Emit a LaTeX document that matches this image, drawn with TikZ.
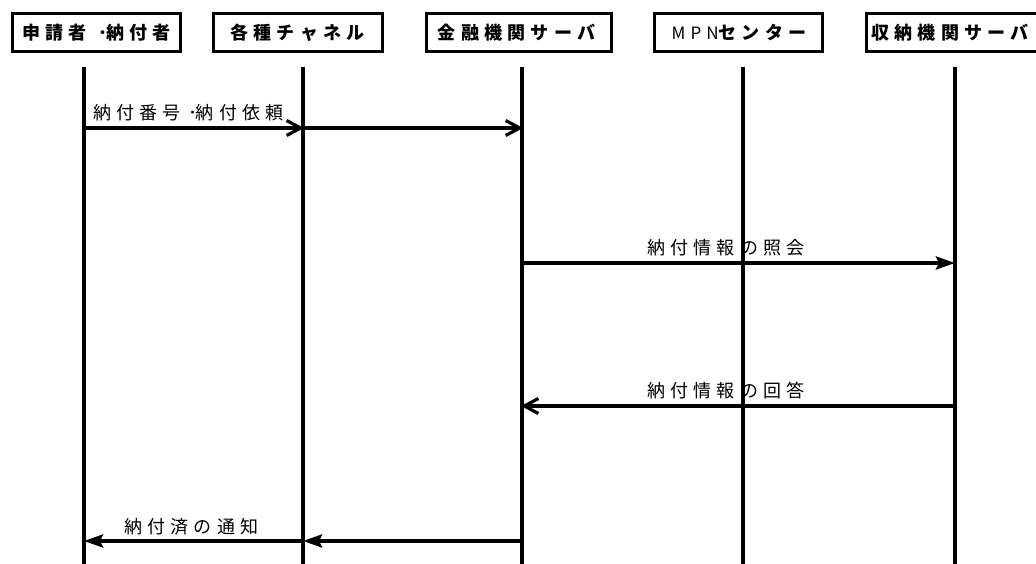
\documentclass[tikz,border=0pt]{standalone}
\usepackage{fontspec}
\newfontfamily\jphd[LetterSpace=29]{Noto Sans CJK JP}
\newfontfamily\jpsp[LetterSpace=29]{Noto Sans CJK JP}
\newfontfamily\jplat[LetterSpace=30]{Noto Sans CJK JP}
\usetikzlibrary{arrows.meta}
\begin{document}
\begin{tikzpicture}[x=1pt,y=-1pt,
  hdr/.style={draw,line width=3pt,minimum height=38pt,inner sep=0pt,font=\jphd\bfseries\fontsize{18}{18}\selectfont},
  life/.style={line width=4pt},
  msg/.style={line width=3.6pt},
  open/.style={-{Straight Barb[length=14pt,width=15pt,line width=3.2pt]}},
  solid/.style={-{Stealth[length=19pt,width=13pt,inset=3pt]}},
  lbl/.style={inner sep=0pt,font=\jpsp\fontsize{18}{18}\selectfont}]
\useasboundingbox (0,0) rectangle (1036,564);
% headers
\node[hdr,minimum width=168pt] (h1) at (96.5,33) {申請者\hspace{16pt}\makebox[0pt]{･}\hspace{3pt}納付者};
\node[hdr,minimum width=169pt] (h2) at (297.5,33) {各種チャネル};
\node[hdr,minimum width=185pt] (h3) at (518.5,33) {\hspace{-4pt}金融機関サーバ};
\node[hdr,minimum width=168pt] (h4) at (738,33) {\hspace{2pt}{\mdseries\jplat\fontsize{17}{17}\selectfont MPN}センター};
\node[hdr,minimum width=192pt] (h5) at (962,33) {\hspace{-24pt}収納機関サーバ};
% lifelines
\foreach \n/\x in {1/84,2/303,3/522,4/743,5/955}{
  \coordinate (t\n) at (\x,67);
  \coordinate (b\n) at (\x,564);
  \draw[life] (t\n) -- (b\n);
}
% message points
\coordinate (m1a) at (84,128); \coordinate (m1b) at (303,128); \coordinate (m1c) at (522,128);
\coordinate (m2a) at (522,263); \coordinate (m2b) at (955,263);
\coordinate (m3a) at (955,406); \coordinate (m3b) at (522,406);
\coordinate (m4a) at (522,541); \coordinate (m4b) at (303,541); \coordinate (m4c) at (84,541);
\draw[msg,open,shorten >=-1pt] (m1a) -- (m1b);
\draw[msg,open,shorten >=-1pt] (m1b) -- (m1c);
\draw[msg,solid] (m2a) -- (m2b);
\draw[msg,open,shorten >=-1pt] (m3a) -- (m3b);
\draw[msg,solid] (m4a) -- (m4b);
\draw[msg,solid] (m4b) -- (m4c);
% labels
\node[lbl,anchor=west] (l1) at (93,113) {納付番号\hspace{12pt}\makebox[0pt]{･}\hspace{3pt}納付依頼};
\node[lbl,anchor=west] (l2) at (647,248) {納付情報の照会};
\node[lbl,anchor=west] (l3) at (647,391) {納付情報の回答};
\node[lbl,anchor=west] (l4) at (124,527) {納付済の通知};
\end{tikzpicture}
\end{document}
